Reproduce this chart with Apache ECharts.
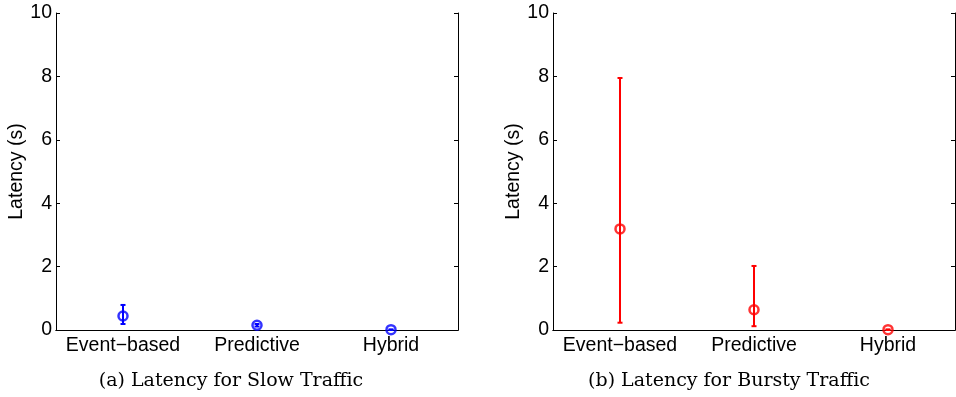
<!DOCTYPE html>
<html>
<head>
<meta charset="utf-8">
<script src="https://cdn.jsdelivr.net/npm/echarts@6/dist/echarts.min.js"></script>
<style>html,body{margin:0;padding:0;background:#fff}#c{width:956px;height:397px}</style>
</head>
<body>
<div id="c"></div>
<script>
const categories = ['Event\u2212based', 'Predictive', 'Hybrid'];
const yTicks = [0, 2, 4, 6, 8, 10];
const slowMean = [0.44, 0.15, 0.01];
const slowLow = [0.19, 0.11, 0.0];
const slowHigh = [0.79, 0.19, 0.02];
const burstyMean = [3.19, 0.64, 0.01];
const burstyLow = [0.23, 0.12, 0.0];
const burstyHigh = [7.95, 2.02, 0.02];
const captionA = '(a) Latency for Slow Traffic';
const captionB = '(b) Latency for Bursty Traffic';
const yName = 'Latency (s)';

const sans = 'Liberation Sans, Arial, sans-serif';
const serif = 'DejaVu Serif, Liberation Serif, serif';

const chart = echarts.init(document.getElementById('c'));

function xAxes(gi) {
  return [
    {gridIndex: gi, type: 'category', data: categories, boundaryGap: true,
     axisLine: {lineStyle: {color: '#000', width: 1}},
     axisTick: {inside: true, length: 4, alignWithLabel: true, interval: 0, lineStyle: {color: '#000'}},
     axisLabel: {color: '#000', fontFamily: sans, fontSize: 19.5, margin: 6, interval: 0},
     splitLine: {show: false}},
    {gridIndex: gi, type: 'category', position: 'top', data: categories, boundaryGap: true,
     axisLine: {lineStyle: {color: '#000', width: 1}},
     axisTick: {inside: true, length: 4, alignWithLabel: true, interval: 0, lineStyle: {color: '#000'}},
     axisLabel: {show: false}, splitLine: {show: false}}
  ];
}
function yAxes(gi) {
  return [
    {gridIndex: gi, type: 'value', min: 0, max: 10, interval: 2,
     name: yName, nameLocation: 'middle', nameGap: 29,
     nameTextStyle: {color: '#000', fontFamily: sans, fontSize: 19.5},
     axisLine: {show: true, lineStyle: {color: '#000', width: 1}},
     axisTick: {show: true, inside: true, length: 4, lineStyle: {color: '#000'}},
     axisLabel: {color: '#000', fontFamily: sans, fontSize: 19.5, margin: 4,
       formatter: v => yTicks.indexOf(v) >= 0 ? String(v) : ''},
     splitLine: {show: false}},
    {gridIndex: gi, type: 'value', position: 'right', min: 0, max: 10, interval: 2,
     axisLine: {show: true, lineStyle: {color: '#000', width: 1}},
     axisTick: {show: true, inside: true, length: 4, lineStyle: {color: '#000'}},
     axisLabel: {show: false}, splitLine: {show: false}}
  ];
}

function errSeries(gi, low, high, color) {
  return {
    type: 'custom', xAxisIndex: gi * 2, yAxisIndex: gi * 2,
    data: categories.map((c, i) => [i, low[i], high[i]]),
    renderItem: function (params, api) {
      const x = api.value(0);
      const lo = api.coord([x, api.value(1)]);
      const hi = api.coord([x, api.value(2)]);
      const hw = 2.5;
      const st = {stroke: color, lineWidth: 2};
      return {type: 'group', children: [
        {type: 'line', shape: {x1: lo[0], y1: lo[1], x2: hi[0], y2: hi[1]}, style: st},
        {type: 'line', shape: {x1: lo[0] - hw, y1: lo[1], x2: lo[0] + hw, y2: lo[1]}, style: st},
        {type: 'line', shape: {x1: hi[0] - hw, y1: hi[1], x2: hi[0] + hw, y2: hi[1]}, style: st}
      ]};
    },
    z: 3
  };
}
function meanSeries(gi, mean, color) {
  return {
    type: 'scatter', xAxisIndex: gi * 2, yAxisIndex: gi * 2,
    data: categories.map((c, i) => [i, mean[i]]),
    symbol: 'circle', symbolSize: 9,
    itemStyle: {color: 'rgba(0,0,0,0)', borderColor: color, borderWidth: 2.5},
    z: 4
  };
}

chart.setOption({
  animation: false,
  backgroundColor: '#fff',
  grid: [
    {left: 56, right: 498, top: 13, bottom: 67},
    {left: 553, right: 1, top: 13, bottom: 67}
  ],
  xAxis: [].concat(xAxes(0), xAxes(1)),
  yAxis: [].concat(yAxes(0), yAxes(1)),
  series: [
    errSeries(0, slowLow, slowHigh, '#0000ff'),
    meanSeries(0, slowMean, '#0000ff'),
    errSeries(1, burstyLow, burstyHigh, '#ff0000'),
    meanSeries(1, burstyMean, '#ff0000')
  ],
  graphic: [
    {type: 'text', x: 231, y: 381, style: {text: captionA, fontFamily: serif, fontSize: 19, fill: '#000', align: 'center', verticalAlign: 'middle'}},
    {type: 'text', x: 729, y: 381, style: {text: captionB, fontFamily: serif, fontSize: 19, fill: '#000', align: 'center', verticalAlign: 'middle'}}
  ]
});
</script>
</body>
</html>
